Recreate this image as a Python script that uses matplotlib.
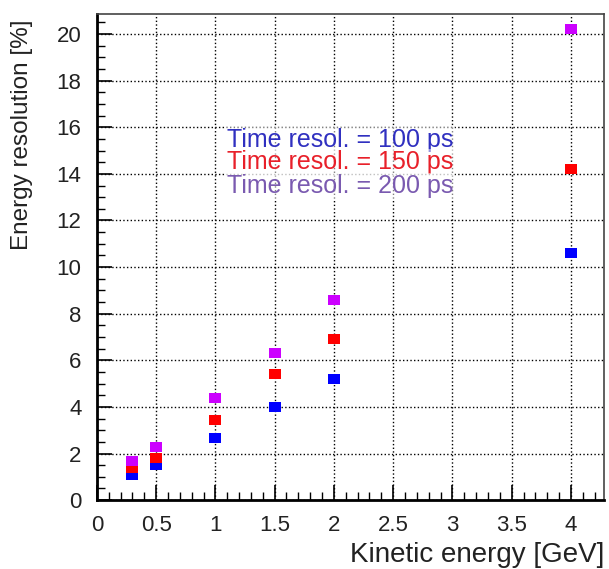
import matplotlib
matplotlib.use("Agg")
import matplotlib.pyplot as plt
from matplotlib.ticker import MultipleLocator

plt.rcParams['font.family'] = ['Liberation Sans', 'DejaVu Sans']

energy = [0.3, 0.5, 1.0, 1.5, 2.0, 4.0]
res_100 = [1.1, 1.5, 2.65, 4.0, 5.2, 10.6]
res_150 = [1.4, 1.8, 3.45, 5.4, 6.9, 14.2]
res_200 = [1.7, 2.3, 4.4, 6.3, 8.6, 20.2]
labels = ["Time resol. = 100 ps", "Time resol. = 150 ps", "Time resol. = 200 ps"]
marker_colors = ["#0000ff", "#ff0000", "#cc00ff"]
text_colors = ["#3030c0", "#e8202a", "#7a5ab0"]

# slightly wide rectangle marker (reference image is horizontally stretched)
rect = [(-1.3, -1.0), (1.3, -1.0), (1.3, 1.0), (-1.3, 1.0), (-1.3, -1.0)]

fig = plt.figure(figsize=(6.09, 5.69), dpi=100)
ax = fig.add_axes([0.159, 0.121, 0.833, 0.854])

for ys, c in zip([res_100, res_150, res_200], marker_colors):
    ax.plot(energy, ys, linestyle='none', marker=rect, markersize=8.5,
            color=c, markeredgewidth=0, zorder=3)

ax.set_xlim(0, 4.28)
ax.set_ylim(0, 20.85)
ax.xaxis.set_major_locator(MultipleLocator(0.5))
ax.xaxis.set_minor_locator(MultipleLocator(0.1))
ax.yaxis.set_major_locator(MultipleLocator(2))
ax.yaxis.set_minor_locator(MultipleLocator(0.5))
ax.xaxis.set_major_formatter(plt.FuncFormatter(lambda v, p: f"{v:g}"))

ax.tick_params(which='major', direction='in', length=11, width=1.2,
               labelsize=16, labelcolor='#222222')
ax.tick_params(axis='x', which='major', pad=11)
ax.tick_params(axis='y', which='major', pad=11)
ax.tick_params(which='minor', direction='in', length=6, width=1.0)
ax.tick_params(top=False, right=False)

ax.grid(True, which='major', linestyle=':', color='black', linewidth=1.0)
ax.set_axisbelow(True)

for side in ['left', 'bottom']:
    ax.spines[side].set_linewidth(2)
for side in ['top', 'right']:
    ax.spines[side].set_linewidth(1.2)
    ax.spines[side].set_color('#444444')

ax.set_xlabel("Kinetic energy [GeV]", fontsize=20, loc='right', labelpad=4,
              color='#222222')
ax.set_ylabel("Energy resolution [%]", fontsize=17.5, loc='top', color='#222222')
ax.yaxis.set_label_coords(-0.125, 0.99)

ys_text = [0.741, 0.695, 0.646]
for lab, c, yt in zip(labels, text_colors, ys_text):
    ax.text(0.479, yt, lab, transform=ax.transAxes, color=c, fontsize=18,
            ha='center', va='center', zorder=4,
            bbox=dict(facecolor='white', edgecolor='none', alpha=0.5, pad=1))

fig.savefig("out.png", dpi=100)
